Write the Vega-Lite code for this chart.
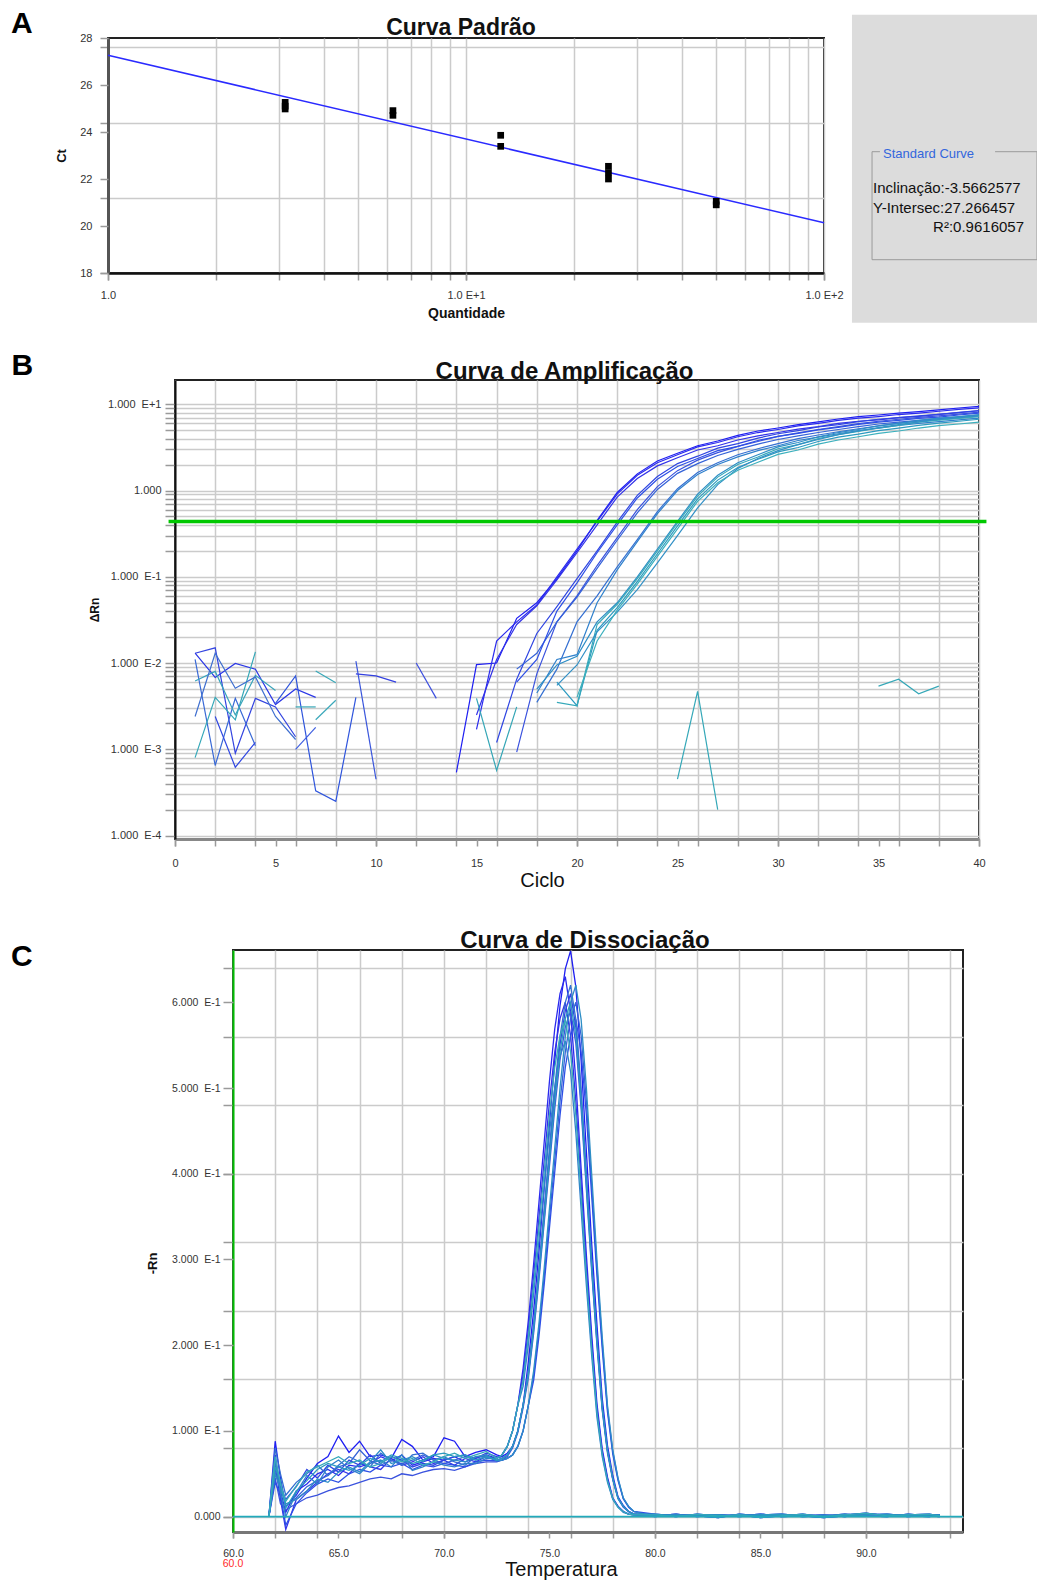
{
"$schema":"https://vega.github.io/schema/vega-lite/v6.json",
"padding":{"left":0,"top":7,"right":0,"bottom":0},
"background":"white",
"config":{"font":"Liberation Sans","view":{"stroke":"#222","strokeWidth":2},
"axis":{"labelFont":"Liberation Sans","labelFontSize":11,"labelColor":"#333","tickColor":"#9a9a9a","tickWidth":1.5,"gridColor":"#cbcbcb","gridWidth":1.5,"labelOverlap":false,"labelBound":false,"labelFlush":false,"titleFont":"Liberation Sans","titleColor":"#111"}},
"datasets":{
"std":[{"q":3.125,"ct":25.26},{"q":3.125,"ct":25.1},{"q":3.125,"ct":24.98},{"q":6.25,"ct":24.91},{"q":6.25,"ct":24.71},{"q":12.5,"ct":23.86},{"q":12.5,"ct":23.39},{"q":25,"ct":22.54},{"q":25,"ct":22.27},{"q":25,"ct":22.0},{"q":50,"ct":21.05},{"q":50,"ct":20.9}],
"fit":[{"q":1,"ct":27.266},{"q":100,"ct":20.134}],
"base":[{"t":60,"v":0},{"t":94.6,"v":0}],
"amp":[
{"s":"a","c":14,"v":0.00054},{"s":"a","c":15,"v":0.0096},{"s":"a","c":16,"v":0.01},{"s":"a","c":17,"v":0.033},{"s":"a","c":18,"v":0.05},{"s":"a","c":19,"v":0.095},{"s":"a","c":20,"v":0.2},{"s":"a","c":21,"v":0.45},{"s":"a","c":22,"v":0.95},{"s":"a","c":23,"v":1.56},{"s":"a","c":24,"v":2.2},{"s":"a","c":25,"v":2.7},{"s":"a","c":26,"v":3.3},{"s":"a","c":27,"v":3.75},{"s":"a","c":28,"v":4.35},{"s":"a","c":29,"v":4.9},{"s":"a","c":30,"v":5.3},{"s":"a","c":31,"v":5.8},{"s":"a","c":32,"v":6.25},{"s":"a","c":33,"v":6.75},{"s":"a","c":34,"v":7.2},{"s":"a","c":35,"v":7.5},{"s":"a","c":36,"v":7.9},{"s":"a","c":37,"v":8.2},{"s":"a","c":38,"v":8.6},{"s":"a","c":39,"v":9.05},{"s":"a","c":40,"v":9.45},
{"s":"b","c":15,"v":0.0017},{"s":"b","c":16,"v":0.018},{"s":"b","c":17,"v":0.03},{"s":"b","c":18,"v":0.047},{"s":"b","c":19,"v":0.1},{"s":"b","c":20,"v":0.21},{"s":"b","c":21,"v":0.44},{"s":"b","c":22,"v":0.91},{"s":"b","c":23,"v":1.5},{"s":"b","c":24,"v":2.1},{"s":"b","c":25,"v":2.6},{"s":"b","c":26,"v":3.2},{"s":"b","c":27,"v":3.6},{"s":"b","c":28,"v":4.2},{"s":"b","c":29,"v":4.7},{"s":"b","c":30,"v":5.1},{"s":"b","c":31,"v":5.6},{"s":"b","c":32,"v":6.0},{"s":"b","c":33,"v":6.5},{"s":"b","c":34,"v":6.9},{"s":"b","c":35,"v":7.2},{"s":"b","c":36,"v":7.6},{"s":"b","c":37,"v":7.9},{"s":"b","c":38,"v":8.3},{"s":"b","c":39,"v":8.7},{"s":"b","c":40,"v":9.1},
{"s":"c","c":15,"v":0.0025},{"s":"c","c":16,"v":0.011},{"s":"c","c":17,"v":0.028},{"s":"c","c":18,"v":0.046},{"s":"c","c":19,"v":0.092},{"s":"c","c":20,"v":0.19},{"s":"c","c":21,"v":0.4},{"s":"c","c":22,"v":0.84},{"s":"c","c":23,"v":1.38},{"s":"c","c":24,"v":1.93},{"s":"c","c":25,"v":2.4},{"s":"c","c":26,"v":2.95},{"s":"c","c":27,"v":3.3},{"s":"c","c":28,"v":3.85},{"s":"c","c":29,"v":4.3},{"s":"c","c":30,"v":4.7},{"s":"c","c":31,"v":5.15},{"s":"c","c":32,"v":5.5},{"s":"c","c":33,"v":6.0},{"s":"c","c":34,"v":6.35},{"s":"c","c":35,"v":6.6},{"s":"c","c":36,"v":7.0},{"s":"c","c":37,"v":7.25},{"s":"c","c":38,"v":7.65},{"s":"c","c":39,"v":8.0},{"s":"c","c":40,"v":8.4},
{"s":"d","c":16,"v":0.0012},{"s":"d","c":17,"v":0.0065},{"s":"d","c":18,"v":0.022},{"s":"d","c":19,"v":0.045},{"s":"d","c":20,"v":0.095},{"s":"d","c":21,"v":0.2},{"s":"d","c":22,"v":0.43},{"s":"d","c":23,"v":0.88},{"s":"d","c":24,"v":1.45},{"s":"d","c":25,"v":2.05},{"s":"d","c":26,"v":2.5},{"s":"d","c":27,"v":3.1},{"s":"d","c":28,"v":3.5},{"s":"d","c":29,"v":4.05},{"s":"d","c":30,"v":4.55},{"s":"d","c":31,"v":4.95},{"s":"d","c":32,"v":5.45},{"s":"d","c":33,"v":5.8},{"s":"d","c":34,"v":6.3},{"s":"d","c":35,"v":6.7},{"s":"d","c":36,"v":7.0},{"s":"d","c":37,"v":7.35},{"s":"d","c":38,"v":7.65},{"s":"d","c":39,"v":8.05},{"s":"d","c":40,"v":8.45},
{"s":"e","c":17,"v":0.00093},{"s":"e","c":18,"v":0.0075},{"s":"e","c":19,"v":0.03},{"s":"e","c":20,"v":0.06},{"s":"e","c":21,"v":0.135},{"s":"e","c":22,"v":0.285},{"s":"e","c":23,"v":0.6},{"s":"e","c":24,"v":1.11},{"s":"e","c":25,"v":1.7},{"s":"e","c":26,"v":2.25},{"s":"e","c":27,"v":2.75},{"s":"e","c":28,"v":3.25},{"s":"e","c":29,"v":3.7},{"s":"e","c":30,"v":4.25},{"s":"e","c":31,"v":4.65},{"s":"e","c":32,"v":5.1},{"s":"e","c":33,"v":5.5},{"s":"e","c":34,"v":5.95},{"s":"e","c":35,"v":6.35},{"s":"e","c":36,"v":6.7},{"s":"e","c":37,"v":7.05},{"s":"e","c":38,"v":7.35},{"s":"e","c":39,"v":7.7},{"s":"e","c":40,"v":8.1},
{"s":"f","c":17,"v":0.0085},{"s":"f","c":18,"v":0.013},{"s":"f","c":19,"v":0.03},{"s":"f","c":20,"v":0.058},{"s":"f","c":21,"v":0.125},{"s":"f","c":22,"v":0.265},{"s":"f","c":23,"v":0.55},{"s":"f","c":24,"v":1.03},{"s":"f","c":25,"v":1.58},{"s":"f","c":26,"v":2.05},{"s":"f","c":27,"v":2.55},{"s":"f","c":28,"v":3.0},{"s":"f","c":29,"v":3.45},{"s":"f","c":30,"v":3.9},{"s":"f","c":31,"v":4.3},{"s":"f","c":32,"v":4.7},{"s":"f","c":33,"v":5.1},{"s":"f","c":34,"v":5.5},{"s":"f","c":35,"v":5.9},{"s":"f","c":36,"v":6.2},{"s":"f","c":37,"v":6.5},{"s":"f","c":38,"v":6.8},{"s":"f","c":39,"v":7.15},{"s":"f","c":40,"v":7.5},
{"s":"g","c":17,"v":0.006},{"s":"g","c":18,"v":0.011},{"s":"g","c":19,"v":0.04},{"s":"g","c":20,"v":0.085},{"s":"g","c":21,"v":0.19},{"s":"g","c":22,"v":0.4},{"s":"g","c":23,"v":0.82},{"s":"g","c":24,"v":1.35},{"s":"g","c":25,"v":1.9},{"s":"g","c":26,"v":2.35},{"s":"g","c":27,"v":2.9},{"s":"g","c":28,"v":3.25},{"s":"g","c":29,"v":3.8},{"s":"g","c":30,"v":4.25},{"s":"g","c":31,"v":4.6},{"s":"g","c":32,"v":5.05},{"s":"g","c":33,"v":5.4},{"s":"g","c":34,"v":5.85},{"s":"g","c":35,"v":6.2},{"s":"g","c":36,"v":6.5},{"s":"g","c":37,"v":6.85},{"s":"g","c":38,"v":7.1},{"s":"g","c":39,"v":7.5},{"s":"g","c":40,"v":7.9},
{"s":"h","c":18,"v":0.0035},{"s":"h","c":19,"v":0.0085},{"s":"h","c":20,"v":0.03},{"s":"h","c":21,"v":0.06},{"s":"h","c":22,"v":0.13},{"s":"h","c":23,"v":0.27},{"s":"h","c":24,"v":0.57},{"s":"h","c":25,"v":1.05},{"s":"h","c":26,"v":1.62},{"s":"h","c":27,"v":2.1},{"s":"h","c":28,"v":2.6},{"s":"h","c":29,"v":3.05},{"s":"h","c":30,"v":3.5},{"s":"h","c":31,"v":4.0},{"s":"h","c":32,"v":4.4},{"s":"h","c":33,"v":4.8},{"s":"h","c":34,"v":5.2},{"s":"h","c":35,"v":5.6},{"s":"h","c":36,"v":6.05},{"s":"h","c":37,"v":6.35},{"s":"h","c":38,"v":6.65},{"s":"h","c":39,"v":6.95},{"s":"h","c":40,"v":7.3},
{"s":"i","c":18,"v":0.0045},{"s":"i","c":19,"v":0.011},{"s":"i","c":20,"v":0.0125},{"s":"i","c":21,"v":0.05},{"s":"i","c":22,"v":0.12},{"s":"i","c":23,"v":0.255},{"s":"i","c":24,"v":0.54},{"s":"i","c":25,"v":1.0},{"s":"i","c":26,"v":1.53},{"s":"i","c":27,"v":2.0},{"s":"i","c":28,"v":2.45},{"s":"i","c":29,"v":2.9},{"s":"i","c":30,"v":3.3},{"s":"i","c":31,"v":3.8},{"s":"i","c":32,"v":4.15},{"s":"i","c":33,"v":4.55},{"s":"i","c":34,"v":4.95},{"s":"i","c":35,"v":5.3},{"s":"i","c":36,"v":5.7},{"s":"i","c":37,"v":6.0},{"s":"i","c":38,"v":6.3},{"s":"i","c":39,"v":6.6},{"s":"i","c":40,"v":6.9},
{"s":"j","c":18,"v":0.005},{"s":"j","c":19,"v":0.0095},{"s":"j","c":20,"v":0.012},{"s":"j","c":21,"v":0.03},{"s":"j","c":22,"v":0.05},{"s":"j","c":23,"v":0.1},{"s":"j","c":24,"v":0.21},{"s":"j","c":25,"v":0.44},{"s":"j","c":26,"v":0.91},{"s":"j","c":27,"v":1.5},{"s":"j","c":28,"v":2.1},{"s":"j","c":29,"v":2.6},{"s":"j","c":30,"v":3.2},{"s":"j","c":31,"v":3.6},{"s":"j","c":32,"v":4.2},{"s":"j","c":33,"v":4.7},{"s":"j","c":34,"v":5.1},{"s":"j","c":35,"v":5.6},{"s":"j","c":36,"v":6.0},{"s":"j","c":37,"v":6.5},{"s":"j","c":38,"v":6.9},{"s":"j","c":39,"v":7.2},{"s":"j","c":40,"v":7.6},
{"s":"k","c":19,"v":0.006},{"s":"k","c":20,"v":0.0032},{"s":"k","c":21,"v":0.024},{"s":"k","c":22,"v":0.044},{"s":"k","c":23,"v":0.088},{"s":"k","c":24,"v":0.185},{"s":"k","c":25,"v":0.39},{"s":"k","c":26,"v":0.8},{"s":"k","c":27,"v":1.32},{"s":"k","c":28,"v":1.85},{"s":"k","c":29,"v":2.3},{"s":"k","c":30,"v":2.8},{"s":"k","c":31,"v":3.15},{"s":"k","c":32,"v":3.7},{"s":"k","c":33,"v":4.15},{"s":"k","c":34,"v":4.5},{"s":"k","c":35,"v":4.95},{"s":"k","c":36,"v":5.3},{"s":"k","c":37,"v":5.7},{"s":"k","c":38,"v":6.05},{"s":"k","c":39,"v":6.35},{"s":"k","c":40,"v":6.7},
{"s":"l","c":19,"v":0.0035},{"s":"l","c":20,"v":0.0032},{"s":"l","c":21,"v":0.028},{"s":"l","c":22,"v":0.048},{"s":"l","c":23,"v":0.095},{"s":"l","c":24,"v":0.2},{"s":"l","c":25,"v":0.42},{"s":"l","c":26,"v":0.86},{"s":"l","c":27,"v":1.43},{"s":"l","c":28,"v":2.0},{"s":"l","c":29,"v":2.45},{"s":"l","c":30,"v":3.05},{"s":"l","c":31,"v":3.4},{"s":"l","c":32,"v":4.0},{"s":"l","c":33,"v":4.45},{"s":"l","c":34,"v":4.85},{"s":"l","c":35,"v":5.3},{"s":"l","c":36,"v":5.7},{"s":"l","c":37,"v":6.2},{"s":"l","c":38,"v":6.55},{"s":"l","c":39,"v":6.85},{"s":"l","c":40,"v":7.2},
{"s":"m","c":19,"v":0.0055},{"s":"m","c":20,"v":0.0095},{"s":"m","c":21,"v":0.023},{"s":"m","c":22,"v":0.039},{"s":"m","c":23,"v":0.071},{"s":"m","c":24,"v":0.145},{"s":"m","c":25,"v":0.3},{"s":"m","c":26,"v":0.63},{"s":"m","c":27,"v":1.17},{"s":"m","c":28,"v":1.8},{"s":"m","c":29,"v":2.35},{"s":"m","c":30,"v":2.9},{"s":"m","c":31,"v":3.4},{"s":"m","c":32,"v":3.9},{"s":"m","c":33,"v":4.45},{"s":"m","c":34,"v":4.9},{"s":"m","c":35,"v":5.35},{"s":"m","c":36,"v":5.8},{"s":"m","c":37,"v":6.25},{"s":"m","c":38,"v":6.7},{"s":"m","c":39,"v":7.05},{"s":"m","c":40,"v":7.4},
{"s":"n","c":20,"v":0.004},{"s":"n","c":21,"v":0.018},{"s":"n","c":22,"v":0.041},{"s":"n","c":23,"v":0.082},{"s":"n","c":24,"v":0.172},{"s":"n","c":25,"v":0.36},{"s":"n","c":26,"v":0.75},{"s":"n","c":27,"v":1.23},{"s":"n","c":28,"v":1.72},{"s":"n","c":29,"v":2.13},{"s":"n","c":30,"v":2.62},{"s":"n","c":31,"v":2.95},{"s":"n","c":32,"v":3.45},{"s":"n","c":33,"v":3.85},{"s":"n","c":34,"v":4.2},{"s":"n","c":35,"v":4.6},{"s":"n","c":36,"v":4.9},{"s":"n","c":37,"v":5.3},{"s":"n","c":38,"v":5.65},{"s":"n","c":39,"v":5.9},{"s":"n","c":40,"v":6.2},
{"s":"n1","c":1,"v":0.013},{"s":"n1","c":2,"v":0.015},{"s":"n1","c":3,"v":0.0009},{"s":"n1","c":4,"v":0.0039},{"s":"n1","c":5,"v":0.0031},{"s":"n1","c":6,"v":0.0014},
{"s":"n2","c":1,"v":0.013},{"s":"n2","c":2,"v":0.0068},{"s":"n2","c":3,"v":0.0099},{"s":"n2","c":4,"v":0.0085},{"s":"n2","c":5,"v":0.0033},{"s":"n2","c":6,"v":0.005},{"s":"n2","c":7,"v":0.004},
{"s":"n3","c":1,"v":0.011},{"s":"n3","c":2,"v":0.00065},{"s":"n3","c":3,"v":0.0039},{"s":"n3","c":4,"v":0.0011},
{"s":"n4","c":1,"v":0.0008},{"s":"n4","c":2,"v":0.004},{"s":"n4","c":3,"v":0.0022},{"s":"n4","c":4,"v":0.0135},
{"s":"n5","c":1,"v":0.0062},{"s":"n5","c":2,"v":0.008},{"s":"n5","c":3,"v":0.0025},{"s":"n5","c":4,"v":0.0072},{"s":"n5","c":5,"v":0.0048},
{"s":"n6","c":2,"v":0.0024},{"s":"n6","c":3,"v":0.00062},{"s":"n6","c":4,"v":0.0012},
{"s":"n7","c":1,"v":0.0024},{"s":"n7","c":2,"v":0.013},{"s":"n7","c":3,"v":0.0051},{"s":"n7","c":4,"v":0.0069},{"s":"n7","c":5,"v":0.0024},{"s":"n7","c":6,"v":0.0013},
{"s":"n8","c":5,"v":0.0034},{"s":"n8","c":6,"v":0.0071},{"s":"n8","c":7,"v":0.00033},{"s":"n8","c":8,"v":0.00025},{"s":"n8","c":9,"v":0.004},
{"s":"n9","c":9,"v":0.0105},{"s":"n9","c":10,"v":0.00045},
{"s":"n10","c":9,"v":0.0075},{"s":"n10","c":10,"v":0.0071},{"s":"n10","c":11,"v":0.006},
{"s":"n11","c":7,"v":0.0081},{"s":"n11","c":8,"v":0.0059},
{"s":"n12","c":7,"v":0.0022},{"s":"n12","c":8,"v":0.0037},
{"s":"n13","c":6,"v":0.0031},{"s":"n13","c":7,"v":0.0031},
{"s":"n14","c":6,"v":0.001},{"s":"n14","c":7,"v":0.0018},
{"s":"n15","c":12,"v":0.01},{"s":"n15","c":13,"v":0.0039},
{"s":"n16","c":15,"v":0.0039},{"s":"n16","c":16,"v":0.00057},{"s":"n16","c":17,"v":0.0031},
{"s":"n18","c":25,"v":0.00045},{"s":"n18","c":26,"v":0.0047},{"s":"n18","c":27,"v":0.0002},
{"s":"n19","c":35,"v":0.0054},{"s":"n19","c":36,"v":0.0065},{"s":"n19","c":37,"v":0.0044},{"s":"n19","c":38,"v":0.0054}
],
"melt":[
{"s":"m1","t":61.7,"v":0},{"s":"m1","t":62,"v":0.088},{"s":"m1","t":62.25,"v":0.045},{"s":"m1","t":62.5,"v":0.012},{"s":"m1","t":63,"v":0.025},{"s":"m1","t":63.5,"v":0.045},{"s":"m1","t":64,"v":0.062},{"s":"m1","t":64.5,"v":0.07},{"s":"m1","t":65,"v":0.094},{"s":"m1","t":65.5,"v":0.075},{"s":"m1","t":66,"v":0.088},{"s":"m1","t":66.5,"v":0.07},{"s":"m1","t":67,"v":0.072},{"s":"m1","t":67.5,"v":0.068},{"s":"m1","t":68,"v":0.09},{"s":"m1","t":68.5,"v":0.082},{"s":"m1","t":69,"v":0.066},{"s":"m1","t":69.5,"v":0.07},{"s":"m1","t":70,"v":0.092},{"s":"m1","t":70.5,"v":0.088},{"s":"m1","t":71,"v":0.07},{"s":"m1","t":71.5,"v":0.075},{"s":"m1","t":72,"v":0.078},
{"s":"m1","t":72.5,"v":0.072},{"s":"m1","t":72.75,"v":0.07},{"s":"m1","t":73,"v":0.074},{"s":"m1","t":73.25,"v":0.082},{"s":"m1","t":73.5,"v":0.1},{"s":"m1","t":73.75,"v":0.13},{"s":"m1","t":74,"v":0.181},{"s":"m1","t":74.25,"v":0.24},{"s":"m1","t":74.5,"v":0.309},{"s":"m1","t":74.75,"v":0.383},{"s":"m1","t":75,"v":0.458},{"s":"m1","t":75.25,"v":0.532},{"s":"m1","t":75.5,"v":0.596},{"s":"m1","t":75.75,"v":0.639},{"s":"m1","t":76,"v":0.66},{"s":"m1","t":76.25,"v":0.618},{"s":"m1","t":76.5,"v":0.532},{"s":"m1","t":76.75,"v":0.426},{"s":"m1","t":77,"v":0.319},{"s":"m1","t":77.25,"v":0.224},{"s":"m1","t":77.5,"v":0.138},{"s":"m1","t":77.75,"v":0.083},{"s":"m1","t":78,"v":0.048},{"s":"m1","t":78.25,"v":0.023},{"s":"m1","t":78.5,"v":0.013},{"s":"m1","t":78.75,"v":0.006},{"s":"m1","t":79,"v":0.003},
{"s":"m1","t":80,"v":0.002},{"s":"m1","t":81,"v":0},{"s":"m1","t":82,"v":0.003},{"s":"m1","t":83,"v":0.001},{"s":"m1","t":84,"v":0.002},{"s":"m1","t":85,"v":-0.001},{"s":"m1","t":86,"v":0.001},{"s":"m1","t":87,"v":0.003},{"s":"m1","t":88,"v":0},{"s":"m1","t":89,"v":0.002},{"s":"m1","t":90,"v":0.004},{"s":"m1","t":91,"v":0.001},{"s":"m1","t":92,"v":0.002},{"s":"m1","t":93,"v":0.003},{"s":"m1","t":93.5,"v":0.001},
{"s":"m2","t":61.7,"v":0},{"s":"m2","t":62,"v":0.072},{"s":"m2","t":62.25,"v":0.03},{"s":"m2","t":62.5,"v":0.005},{"s":"m2","t":63,"v":0.03},{"s":"m2","t":63.5,"v":0.038},{"s":"m2","t":64,"v":0.05},{"s":"m2","t":64.5,"v":0.055},{"s":"m2","t":65,"v":0.048},{"s":"m2","t":65.5,"v":0.06},{"s":"m2","t":66,"v":0.058},{"s":"m2","t":66.5,"v":0.062},{"s":"m2","t":67,"v":0.07},{"s":"m2","t":67.5,"v":0.065},{"s":"m2","t":68,"v":0.072},{"s":"m2","t":68.5,"v":0.06},{"s":"m2","t":69,"v":0.064},{"s":"m2","t":69.5,"v":0.068},{"s":"m2","t":70,"v":0.066},{"s":"m2","t":70.5,"v":0.07},{"s":"m2","t":71,"v":0.064},{"s":"m2","t":71.5,"v":0.068},{"s":"m2","t":72,"v":0.072},
{"s":"m2","t":72.5,"v":0.068},{"s":"m2","t":72.75,"v":0.072},{"s":"m2","t":73,"v":0.082},{"s":"m2","t":73.25,"v":0.1},{"s":"m2","t":73.5,"v":0.13},{"s":"m2","t":73.75,"v":0.173},{"s":"m2","t":74,"v":0.229},{"s":"m2","t":74.25,"v":0.295},{"s":"m2","t":74.5,"v":0.366},{"s":"m2","t":74.75,"v":0.437},{"s":"m2","t":75,"v":0.508},{"s":"m2","t":75.25,"v":0.569},{"s":"m2","t":75.5,"v":0.61},{"s":"m2","t":75.75,"v":0.63},{"s":"m2","t":76,"v":0.589},{"s":"m2","t":76.25,"v":0.508},{"s":"m2","t":76.5,"v":0.406},{"s":"m2","t":76.75,"v":0.305},{"s":"m2","t":77,"v":0.213},{"s":"m2","t":77.25,"v":0.132},{"s":"m2","t":77.5,"v":0.079},{"s":"m2","t":77.75,"v":0.046},{"s":"m2","t":78,"v":0.022},{"s":"m2","t":78.25,"v":0.012},{"s":"m2","t":78.5,"v":0.006},{"s":"m2","t":78.75,"v":0.003},{"s":"m2","t":79,"v":0.002},
{"s":"m2","t":80,"v":0.001},{"s":"m2","t":81,"v":0.003},{"s":"m2","t":82,"v":0},{"s":"m2","t":83,"v":0.002},{"s":"m2","t":84,"v":0.001},{"s":"m2","t":85,"v":0.003},{"s":"m2","t":86,"v":0},{"s":"m2","t":87,"v":0.001},{"s":"m2","t":88,"v":0.002},{"s":"m2","t":89,"v":0},{"s":"m2","t":90,"v":0.003},{"s":"m2","t":91,"v":0.002},{"s":"m2","t":92,"v":0},{"s":"m2","t":93,"v":0.002},{"s":"m2","t":93.5,"v":0.002},
{"s":"m3","t":61.7,"v":0},{"s":"m3","t":62,"v":0.06},{"s":"m3","t":62.25,"v":0.02},{"s":"m3","t":62.5,"v":-0.015},{"s":"m3","t":63,"v":0.02},{"s":"m3","t":63.5,"v":0.03},{"s":"m3","t":64,"v":0.04},{"s":"m3","t":64.5,"v":0.05},{"s":"m3","t":65,"v":0.055},{"s":"m3","t":65.5,"v":0.05},{"s":"m3","t":66,"v":0.062},{"s":"m3","t":66.5,"v":0.058},{"s":"m3","t":67,"v":0.055},{"s":"m3","t":67.5,"v":0.068},{"s":"m3","t":68,"v":0.06},{"s":"m3","t":68.5,"v":0.064},{"s":"m3","t":69,"v":0.07},{"s":"m3","t":69.5,"v":0.062},{"s":"m3","t":70,"v":0.066},{"s":"m3","t":70.5,"v":0.06},{"s":"m3","t":71,"v":0.068},{"s":"m3","t":71.5,"v":0.064},{"s":"m3","t":72,"v":0.07},
{"s":"m3","t":72.5,"v":0.068},{"s":"m3","t":72.75,"v":0.072},{"s":"m3","t":73,"v":0.082},{"s":"m3","t":73.25,"v":0.1},{"s":"m3","t":73.5,"v":0.13},{"s":"m3","t":73.75,"v":0.165},{"s":"m3","t":74,"v":0.218},{"s":"m3","t":74.25,"v":0.281},{"s":"m3","t":74.5,"v":0.348},{"s":"m3","t":74.75,"v":0.416},{"s":"m3","t":75,"v":0.484},{"s":"m3","t":75.25,"v":0.542},{"s":"m3","t":75.5,"v":0.581},{"s":"m3","t":75.75,"v":0.6},{"s":"m3","t":76,"v":0.561},{"s":"m3","t":76.25,"v":0.484},{"s":"m3","t":76.5,"v":0.387},{"s":"m3","t":76.75,"v":0.29},{"s":"m3","t":77,"v":0.203},{"s":"m3","t":77.25,"v":0.126},{"s":"m3","t":77.5,"v":0.076},{"s":"m3","t":77.75,"v":0.044},{"s":"m3","t":78,"v":0.021},{"s":"m3","t":78.25,"v":0.012},{"s":"m3","t":78.5,"v":0.006},{"s":"m3","t":78.75,"v":0.003},{"s":"m3","t":79,"v":0.002},
{"s":"m3","t":80,"v":0},{"s":"m3","t":81,"v":0.002},{"s":"m3","t":82,"v":0.001},{"s":"m3","t":83,"v":-0.001},{"s":"m3","t":84,"v":0.003},{"s":"m3","t":85,"v":0.001},{"s":"m3","t":86,"v":0.002},{"s":"m3","t":87,"v":0},{"s":"m3","t":88,"v":0.001},{"s":"m3","t":89,"v":0.003},{"s":"m3","t":90,"v":0.001},{"s":"m3","t":91,"v":0},{"s":"m3","t":92,"v":0.003},{"s":"m3","t":93,"v":0.001},{"s":"m3","t":93.5,"v":0},
{"s":"m4","t":61.7,"v":0},{"s":"m4","t":62,"v":0.05},{"s":"m4","t":62.25,"v":0.035},{"s":"m4","t":62.5,"v":0.02},{"s":"m4","t":63,"v":0.035},{"s":"m4","t":63.5,"v":0.055},{"s":"m4","t":64,"v":0.045},{"s":"m4","t":64.5,"v":0.06},{"s":"m4","t":65,"v":0.052},{"s":"m4","t":65.5,"v":0.066},{"s":"m4","t":66,"v":0.06},{"s":"m4","t":66.5,"v":0.072},{"s":"m4","t":67,"v":0.062},{"s":"m4","t":67.5,"v":0.07},{"s":"m4","t":68,"v":0.066},{"s":"m4","t":68.5,"v":0.058},{"s":"m4","t":69,"v":0.062},{"s":"m4","t":69.5,"v":0.06},{"s":"m4","t":70,"v":0.066},{"s":"m4","t":70.5,"v":0.07},{"s":"m4","t":71,"v":0.072},{"s":"m4","t":71.5,"v":0.068},{"s":"m4","t":72,"v":0.074},
{"s":"m4","t":72.5,"v":0.07},{"s":"m4","t":72.75,"v":0.068},{"s":"m4","t":73,"v":0.072},{"s":"m4","t":73.25,"v":0.082},{"s":"m4","t":73.5,"v":0.1},{"s":"m4","t":73.75,"v":0.13},{"s":"m4","t":74,"v":0.167},{"s":"m4","t":74.25,"v":0.221},{"s":"m4","t":74.5,"v":0.285},{"s":"m4","t":74.75,"v":0.354},{"s":"m4","t":75,"v":0.423},{"s":"m4","t":75.25,"v":0.492},{"s":"m4","t":75.5,"v":0.551},{"s":"m4","t":75.75,"v":0.59},{"s":"m4","t":76,"v":0.61},{"s":"m4","t":76.25,"v":0.571},{"s":"m4","t":76.5,"v":0.492},{"s":"m4","t":76.75,"v":0.394},{"s":"m4","t":77,"v":0.295},{"s":"m4","t":77.25,"v":0.207},{"s":"m4","t":77.5,"v":0.128},{"s":"m4","t":77.75,"v":0.077},{"s":"m4","t":78,"v":0.044},{"s":"m4","t":78.25,"v":0.022},{"s":"m4","t":78.5,"v":0.012},{"s":"m4","t":78.75,"v":0.006},{"s":"m4","t":79,"v":0.003},
{"s":"m4","t":80,"v":0.003},{"s":"m4","t":81,"v":0.001},{"s":"m4","t":82,"v":0.002},{"s":"m4","t":83,"v":0.002},{"s":"m4","t":84,"v":0},{"s":"m4","t":85,"v":0.002},{"s":"m4","t":86,"v":0.003},{"s":"m4","t":87,"v":0.001},{"s":"m4","t":88,"v":-0.001},{"s":"m4","t":89,"v":0.001},{"s":"m4","t":90,"v":0.002},{"s":"m4","t":91,"v":0.003},{"s":"m4","t":92,"v":0.001},{"s":"m4","t":93,"v":0},{"s":"m4","t":93.5,"v":0.002},
{"s":"m5","t":61.7,"v":0},{"s":"m5","t":62,"v":0.045},{"s":"m5","t":62.25,"v":0.015},{"s":"m5","t":62.5,"v":0.008},{"s":"m5","t":63,"v":0.015},{"s":"m5","t":63.5,"v":0.022},{"s":"m5","t":64,"v":0.025},{"s":"m5","t":64.5,"v":0.03},{"s":"m5","t":65,"v":0.034},{"s":"m5","t":65.5,"v":0.036},{"s":"m5","t":66,"v":0.04},{"s":"m5","t":66.5,"v":0.044},{"s":"m5","t":67,"v":0.046},{"s":"m5","t":67.5,"v":0.044},{"s":"m5","t":68,"v":0.05},{"s":"m5","t":68.5,"v":0.048},{"s":"m5","t":69,"v":0.052},{"s":"m5","t":69.5,"v":0.055},{"s":"m5","t":70,"v":0.056},{"s":"m5","t":70.5,"v":0.054},{"s":"m5","t":71,"v":0.058},{"s":"m5","t":71.5,"v":0.062},{"s":"m5","t":72,"v":0.064},
{"s":"m5","t":72.5,"v":0.064},{"s":"m5","t":72.75,"v":0.066},{"s":"m5","t":73,"v":0.07},{"s":"m5","t":73.25,"v":0.08},{"s":"m5","t":73.5,"v":0.098},{"s":"m5","t":73.75,"v":0.127},{"s":"m5","t":74,"v":0.162},{"s":"m5","t":74.25,"v":0.214},{"s":"m5","t":74.5,"v":0.276},{"s":"m5","t":74.75,"v":0.343},{"s":"m5","t":75,"v":0.409},{"s":"m5","t":75.25,"v":0.476},{"s":"m5","t":75.5,"v":0.533},{"s":"m5","t":75.75,"v":0.571},{"s":"m5","t":76,"v":0.59},{"s":"m5","t":76.25,"v":0.552},{"s":"m5","t":76.5,"v":0.476},{"s":"m5","t":76.75,"v":0.381},{"s":"m5","t":77,"v":0.286},{"s":"m5","t":77.25,"v":0.2},{"s":"m5","t":77.5,"v":0.124},{"s":"m5","t":77.75,"v":0.074},{"s":"m5","t":78,"v":0.043},{"s":"m5","t":78.25,"v":0.021},{"s":"m5","t":78.5,"v":0.011},{"s":"m5","t":78.75,"v":0.006},{"s":"m5","t":79,"v":0.003},
{"s":"m5","t":80,"v":0.001},{"s":"m5","t":81,"v":0.003},{"s":"m5","t":82,"v":0},{"s":"m5","t":83,"v":0.002},{"s":"m5","t":84,"v":0.001},{"s":"m5","t":85,"v":0.003},{"s":"m5","t":86,"v":0},{"s":"m5","t":87,"v":0.001},{"s":"m5","t":88,"v":0.002},{"s":"m5","t":89,"v":0},{"s":"m5","t":90,"v":0.003},{"s":"m5","t":91,"v":0.002},{"s":"m5","t":92,"v":0},{"s":"m5","t":93,"v":0.002},{"s":"m5","t":93.5,"v":0.002},
{"s":"m6","t":61.7,"v":0},{"s":"m6","t":62,"v":0.055},{"s":"m6","t":62.25,"v":0.04},{"s":"m6","t":62.5,"v":0.012},{"s":"m6","t":63,"v":0.022},{"s":"m6","t":63.5,"v":0.035},{"s":"m6","t":64,"v":0.042},{"s":"m6","t":64.5,"v":0.048},{"s":"m6","t":65,"v":0.058},{"s":"m6","t":65.5,"v":0.062},{"s":"m6","t":66,"v":0.078},{"s":"m6","t":66.5,"v":0.065},{"s":"m6","t":67,"v":0.06},{"s":"m6","t":67.5,"v":0.066},{"s":"m6","t":68,"v":0.062},{"s":"m6","t":68.5,"v":0.066},{"s":"m6","t":69,"v":0.072},{"s":"m6","t":69.5,"v":0.066},{"s":"m6","t":70,"v":0.062},{"s":"m6","t":70.5,"v":0.066},{"s":"m6","t":71,"v":0.07},{"s":"m6","t":71.5,"v":0.066},{"s":"m6","t":72,"v":0.07},
{"s":"m6","t":72.5,"v":0.065},{"s":"m6","t":72.75,"v":0.066},{"s":"m6","t":73,"v":0.068},{"s":"m6","t":73.25,"v":0.072},{"s":"m6","t":73.5,"v":0.082},{"s":"m6","t":73.75,"v":0.1},{"s":"m6","t":74,"v":0.13},{"s":"m6","t":74.25,"v":0.165},{"s":"m6","t":74.5,"v":0.218},{"s":"m6","t":74.75,"v":0.281},{"s":"m6","t":75,"v":0.348},{"s":"m6","t":75.25,"v":0.416},{"s":"m6","t":75.5,"v":0.484},{"s":"m6","t":75.75,"v":0.542},{"s":"m6","t":76,"v":0.581},{"s":"m6","t":76.25,"v":0.6},{"s":"m6","t":76.5,"v":0.561},{"s":"m6","t":76.75,"v":0.484},{"s":"m6","t":77,"v":0.387},{"s":"m6","t":77.25,"v":0.29},{"s":"m6","t":77.5,"v":0.203},{"s":"m6","t":77.75,"v":0.126},{"s":"m6","t":78,"v":0.076},{"s":"m6","t":78.25,"v":0.044},{"s":"m6","t":78.5,"v":0.021},{"s":"m6","t":78.75,"v":0.012},{"s":"m6","t":79,"v":0.006},
{"s":"m6","t":80,"v":0},{"s":"m6","t":81,"v":0.002},{"s":"m6","t":82,"v":0.001},{"s":"m6","t":83,"v":-0.001},{"s":"m6","t":84,"v":0.003},{"s":"m6","t":85,"v":0.001},{"s":"m6","t":86,"v":0.002},{"s":"m6","t":87,"v":0},{"s":"m6","t":88,"v":0.001},{"s":"m6","t":89,"v":0.003},{"s":"m6","t":90,"v":0.001},{"s":"m6","t":91,"v":0},{"s":"m6","t":92,"v":0.003},{"s":"m6","t":93,"v":0.001},{"s":"m6","t":93.5,"v":0},
{"s":"m7","t":61.7,"v":0},{"s":"m7","t":62,"v":0.04},{"s":"m7","t":62.25,"v":0.025},{"s":"m7","t":62.5,"v":-0.01},{"s":"m7","t":63,"v":0.015},{"s":"m7","t":63.5,"v":0.028},{"s":"m7","t":64,"v":0.038},{"s":"m7","t":64.5,"v":0.044},{"s":"m7","t":65,"v":0.04},{"s":"m7","t":65.5,"v":0.05},{"s":"m7","t":66,"v":0.055},{"s":"m7","t":66.5,"v":0.052},{"s":"m7","t":67,"v":0.06},{"s":"m7","t":67.5,"v":0.058},{"s":"m7","t":68,"v":0.062},{"s":"m7","t":68.5,"v":0.055},{"s":"m7","t":69,"v":0.06},{"s":"m7","t":69.5,"v":0.058},{"s":"m7","t":70,"v":0.062},{"s":"m7","t":70.5,"v":0.06},{"s":"m7","t":71,"v":0.058},{"s":"m7","t":71.5,"v":0.064},{"s":"m7","t":72,"v":0.066},
{"s":"m7","t":72.5,"v":0.065},{"s":"m7","t":72.75,"v":0.066},{"s":"m7","t":73,"v":0.068},{"s":"m7","t":73.25,"v":0.072},{"s":"m7","t":73.5,"v":0.082},{"s":"m7","t":73.75,"v":0.1},{"s":"m7","t":74,"v":0.13},{"s":"m7","t":74.25,"v":0.159},{"s":"m7","t":74.5,"v":0.21},{"s":"m7","t":74.75,"v":0.271},{"s":"m7","t":75,"v":0.337},{"s":"m7","t":75.25,"v":0.402},{"s":"m7","t":75.5,"v":0.468},{"s":"m7","t":75.75,"v":0.524},{"s":"m7","t":76,"v":0.561},{"s":"m7","t":76.25,"v":0.58},{"s":"m7","t":76.5,"v":0.542},{"s":"m7","t":76.75,"v":0.468},{"s":"m7","t":77,"v":0.374},{"s":"m7","t":77.25,"v":0.281},{"s":"m7","t":77.5,"v":0.196},{"s":"m7","t":77.75,"v":0.122},{"s":"m7","t":78,"v":0.073},{"s":"m7","t":78.25,"v":0.042},{"s":"m7","t":78.5,"v":0.021},{"s":"m7","t":78.75,"v":0.011},{"s":"m7","t":79,"v":0.006},
{"s":"m7","t":80,"v":0.003},{"s":"m7","t":81,"v":0.001},{"s":"m7","t":82,"v":0.002},{"s":"m7","t":83,"v":0.002},{"s":"m7","t":84,"v":0},{"s":"m7","t":85,"v":0.002},{"s":"m7","t":86,"v":0.003},{"s":"m7","t":87,"v":0.001},{"s":"m7","t":88,"v":-0.001},{"s":"m7","t":89,"v":0.001},{"s":"m7","t":90,"v":0.002},{"s":"m7","t":91,"v":0.003},{"s":"m7","t":92,"v":0.001},{"s":"m7","t":93,"v":0},{"s":"m7","t":93.5,"v":0.002},
{"s":"m8","t":61.7,"v":0},{"s":"m8","t":62,"v":0.08},{"s":"m8","t":62.25,"v":0.05},{"s":"m8","t":62.5,"v":0.025},{"s":"m8","t":63,"v":0.04},{"s":"m8","t":63.5,"v":0.05},{"s":"m8","t":64,"v":0.06},{"s":"m8","t":64.5,"v":0.048},{"s":"m8","t":65,"v":0.06},{"s":"m8","t":65.5,"v":0.07},{"s":"m8","t":66,"v":0.064},{"s":"m8","t":66.5,"v":0.058},{"s":"m8","t":67,"v":0.074},{"s":"m8","t":67.5,"v":0.066},{"s":"m8","t":68,"v":0.06},{"s":"m8","t":68.5,"v":0.072},{"s":"m8","t":69,"v":0.074},{"s":"m8","t":69.5,"v":0.066},{"s":"m8","t":70,"v":0.07},{"s":"m8","t":70.5,"v":0.064},{"s":"m8","t":71,"v":0.06},{"s":"m8","t":71.5,"v":0.07},{"s":"m8","t":72,"v":0.07},
{"s":"m8","t":72.5,"v":0.066},{"s":"m8","t":72.75,"v":0.068},{"s":"m8","t":73,"v":0.072},{"s":"m8","t":73.25,"v":0.082},{"s":"m8","t":73.5,"v":0.1},{"s":"m8","t":73.75,"v":0.13},{"s":"m8","t":74,"v":0.17},{"s":"m8","t":74.25,"v":0.225},{"s":"m8","t":74.5,"v":0.29},{"s":"m8","t":74.75,"v":0.36},{"s":"m8","t":75,"v":0.43},{"s":"m8","t":75.25,"v":0.5},{"s":"m8","t":75.5,"v":0.56},{"s":"m8","t":75.75,"v":0.6},{"s":"m8","t":76,"v":0.62},{"s":"m8","t":76.25,"v":0.58},{"s":"m8","t":76.5,"v":0.5},{"s":"m8","t":76.75,"v":0.4},{"s":"m8","t":77,"v":0.3},{"s":"m8","t":77.25,"v":0.21},{"s":"m8","t":77.5,"v":0.13},{"s":"m8","t":77.75,"v":0.078},{"s":"m8","t":78,"v":0.045},{"s":"m8","t":78.25,"v":0.022},{"s":"m8","t":78.5,"v":0.012},{"s":"m8","t":78.75,"v":0.006},{"s":"m8","t":79,"v":0.003},
{"s":"m8","t":80,"v":0.002},{"s":"m8","t":81,"v":0},{"s":"m8","t":82,"v":0.003},{"s":"m8","t":83,"v":0.001},{"s":"m8","t":84,"v":0.002},{"s":"m8","t":85,"v":-0.001},{"s":"m8","t":86,"v":0.001},{"s":"m8","t":87,"v":0.003},{"s":"m8","t":88,"v":0},{"s":"m8","t":89,"v":0.002},{"s":"m8","t":90,"v":0.004},{"s":"m8","t":91,"v":0.001},{"s":"m8","t":92,"v":0.002},{"s":"m8","t":93,"v":0.003},{"s":"m8","t":93.5,"v":0.001},
{"s":"m9","t":61.7,"v":0},{"s":"m9","t":62,"v":0.065},{"s":"m9","t":62.25,"v":0.028},{"s":"m9","t":62.5,"v":0},{"s":"m9","t":63,"v":0.028},{"s":"m9","t":63.5,"v":0.048},{"s":"m9","t":64,"v":0.038},{"s":"m9","t":64.5,"v":0.058},{"s":"m9","t":65,"v":0.066},{"s":"m9","t":65.5,"v":0.056},{"s":"m9","t":66,"v":0.05},{"s":"m9","t":66.5,"v":0.062},{"s":"m9","t":67,"v":0.066},{"s":"m9","t":67.5,"v":0.058},{"s":"m9","t":68,"v":0.072},{"s":"m9","t":68.5,"v":0.054},{"s":"m9","t":69,"v":0.058},{"s":"m9","t":69.5,"v":0.064},{"s":"m9","t":70,"v":0.06},{"s":"m9","t":70.5,"v":0.058},{"s":"m9","t":71,"v":0.062},{"s":"m9","t":71.5,"v":0.062},{"s":"m9","t":72,"v":0.068},
{"s":"m9","t":72.5,"v":0.068},{"s":"m9","t":72.75,"v":0.072},{"s":"m9","t":73,"v":0.082},{"s":"m9","t":73.25,"v":0.1},{"s":"m9","t":73.5,"v":0.13},{"s":"m9","t":73.75,"v":0.152},{"s":"m9","t":74,"v":0.201},{"s":"m9","t":74.25,"v":0.26},{"s":"m9","t":74.5,"v":0.322},{"s":"m9","t":74.75,"v":0.385},{"s":"m9","t":75,"v":0.448},{"s":"m9","t":75.25,"v":0.501},{"s":"m9","t":75.5,"v":0.537},{"s":"m9","t":75.75,"v":0.555},{"s":"m9","t":76,"v":0.519},{"s":"m9","t":76.25,"v":0.448},{"s":"m9","t":76.5,"v":0.358},{"s":"m9","t":76.75,"v":0.269},{"s":"m9","t":77,"v":0.188},{"s":"m9","t":77.25,"v":0.116},{"s":"m9","t":77.5,"v":0.07},{"s":"m9","t":77.75,"v":0.04},{"s":"m9","t":78,"v":0.02},{"s":"m9","t":78.25,"v":0.011},{"s":"m9","t":78.5,"v":0.005},{"s":"m9","t":78.75,"v":0.003},{"s":"m9","t":79,"v":0.002},
{"s":"m9","t":80,"v":0.001},{"s":"m9","t":81,"v":0.003},{"s":"m9","t":82,"v":0},{"s":"m9","t":83,"v":0.002},{"s":"m9","t":84,"v":0.001},{"s":"m9","t":85,"v":0.003},{"s":"m9","t":86,"v":0},{"s":"m9","t":87,"v":0.001},{"s":"m9","t":88,"v":0.002},{"s":"m9","t":89,"v":0},{"s":"m9","t":90,"v":0.003},{"s":"m9","t":91,"v":0.002},{"s":"m9","t":92,"v":0},{"s":"m9","t":93,"v":0.002},{"s":"m9","t":93.5,"v":0.002},
{"s":"m10","t":61.7,"v":0},{"s":"m10","t":62,"v":0.05},{"s":"m10","t":62.25,"v":0.032},{"s":"m10","t":62.5,"v":0.015},{"s":"m10","t":63,"v":0.02},{"s":"m10","t":63.5,"v":0.03},{"s":"m10","t":64,"v":0.044},{"s":"m10","t":64.5,"v":0.04},{"s":"m10","t":65,"v":0.052},{"s":"m10","t":65.5,"v":0.058},{"s":"m10","t":66,"v":0.052},{"s":"m10","t":66.5,"v":0.064},{"s":"m10","t":67,"v":0.078},{"s":"m10","t":67.5,"v":0.062},{"s":"m10","t":68,"v":0.066},{"s":"m10","t":68.5,"v":0.07},{"s":"m10","t":69,"v":0.064},{"s":"m10","t":69.5,"v":0.072},{"s":"m10","t":70,"v":0.068},{"s":"m10","t":70.5,"v":0.066},{"s":"m10","t":71,"v":0.064},{"s":"m10","t":71.5,"v":0.07},{"s":"m10","t":72,"v":0.072},
{"s":"m10","t":72.5,"v":0.065},{"s":"m10","t":72.75,"v":0.066},{"s":"m10","t":73,"v":0.068},{"s":"m10","t":73.25,"v":0.072},{"s":"m10","t":73.5,"v":0.082},{"s":"m10","t":73.75,"v":0.1},{"s":"m10","t":74,"v":0.13},{"s":"m10","t":74.25,"v":0.17},{"s":"m10","t":74.5,"v":0.225},{"s":"m10","t":74.75,"v":0.29},{"s":"m10","t":75,"v":0.36},{"s":"m10","t":75.25,"v":0.43},{"s":"m10","t":75.5,"v":0.5},{"s":"m10","t":75.75,"v":0.56},{"s":"m10","t":76,"v":0.6},{"s":"m10","t":76.25,"v":0.62},{"s":"m10","t":76.5,"v":0.58},{"s":"m10","t":76.75,"v":0.5},{"s":"m10","t":77,"v":0.4},{"s":"m10","t":77.25,"v":0.3},{"s":"m10","t":77.5,"v":0.21},{"s":"m10","t":77.75,"v":0.13},{"s":"m10","t":78,"v":0.078},{"s":"m10","t":78.25,"v":0.045},{"s":"m10","t":78.5,"v":0.022},{"s":"m10","t":78.75,"v":0.012},{"s":"m10","t":79,"v":0.006},
{"s":"m10","t":80,"v":0},{"s":"m10","t":81,"v":0.002},{"s":"m10","t":82,"v":0.001},{"s":"m10","t":83,"v":-0.001},{"s":"m10","t":84,"v":0.003},{"s":"m10","t":85,"v":0.001},{"s":"m10","t":86,"v":0.002},{"s":"m10","t":87,"v":0},{"s":"m10","t":88,"v":0.001},{"s":"m10","t":89,"v":0.003},{"s":"m10","t":90,"v":0.001},{"s":"m10","t":91,"v":0},{"s":"m10","t":92,"v":0.003},{"s":"m10","t":93,"v":0.001},{"s":"m10","t":93.5,"v":0},
{"s":"m11","t":61.7,"v":0},{"s":"m11","t":62,"v":0.058},{"s":"m11","t":62.25,"v":0.042},{"s":"m11","t":62.5,"v":0.01},{"s":"m11","t":63,"v":0.03},{"s":"m11","t":63.5,"v":0.042},{"s":"m11","t":64,"v":0.055},{"s":"m11","t":64.5,"v":0.062},{"s":"m11","t":65,"v":0.058},{"s":"m11","t":65.5,"v":0.054},{"s":"m11","t":66,"v":0.06},{"s":"m11","t":66.5,"v":0.068},{"s":"m11","t":67,"v":0.064},{"s":"m11","t":67.5,"v":0.072},{"s":"m11","t":68,"v":0.068},{"s":"m11","t":68.5,"v":0.062},{"s":"m11","t":69,"v":0.066},{"s":"m11","t":69.5,"v":0.072},{"s":"m11","t":70,"v":0.074},{"s":"m11","t":70.5,"v":0.07},{"s":"m11","t":71,"v":0.072},{"s":"m11","t":71.5,"v":0.066},{"s":"m11","t":72,"v":0.07},
{"s":"m11","t":72.5,"v":0.066},{"s":"m11","t":72.75,"v":0.068},{"s":"m11","t":73,"v":0.072},{"s":"m11","t":73.25,"v":0.082},{"s":"m11","t":73.5,"v":0.1},{"s":"m11","t":73.75,"v":0.13},{"s":"m11","t":74,"v":0.165},{"s":"m11","t":74.25,"v":0.218},{"s":"m11","t":74.5,"v":0.281},{"s":"m11","t":74.75,"v":0.348},{"s":"m11","t":75,"v":0.416},{"s":"m11","t":75.25,"v":0.484},{"s":"m11","t":75.5,"v":0.542},{"s":"m11","t":75.75,"v":0.581},{"s":"m11","t":76,"v":0.6},{"s":"m11","t":76.25,"v":0.561},{"s":"m11","t":76.5,"v":0.484},{"s":"m11","t":76.75,"v":0.387},{"s":"m11","t":77,"v":0.29},{"s":"m11","t":77.25,"v":0.203},{"s":"m11","t":77.5,"v":0.126},{"s":"m11","t":77.75,"v":0.076},{"s":"m11","t":78,"v":0.044},{"s":"m11","t":78.25,"v":0.021},{"s":"m11","t":78.5,"v":0.012},{"s":"m11","t":78.75,"v":0.006},{"s":"m11","t":79,"v":0.003},
{"s":"m11","t":80,"v":0.003},{"s":"m11","t":81,"v":0.001},{"s":"m11","t":82,"v":0.002},{"s":"m11","t":83,"v":0.002},{"s":"m11","t":84,"v":0},{"s":"m11","t":85,"v":0.002},{"s":"m11","t":86,"v":0.003},{"s":"m11","t":87,"v":0.001},{"s":"m11","t":88,"v":-0.001},{"s":"m11","t":89,"v":0.001},{"s":"m11","t":90,"v":0.002},{"s":"m11","t":91,"v":0.003},{"s":"m11","t":92,"v":0.001},{"s":"m11","t":93,"v":0},{"s":"m11","t":93.5,"v":0.002},
{"s":"m12","t":61.7,"v":0},{"s":"m12","t":62,"v":0.07},{"s":"m12","t":62.25,"v":0.038},{"s":"m12","t":62.5,"v":0.018},{"s":"m12","t":63,"v":0.036},{"s":"m12","t":63.5,"v":0.052},{"s":"m12","t":64,"v":0.058},{"s":"m12","t":64.5,"v":0.064},{"s":"m12","t":65,"v":0.07},{"s":"m12","t":65.5,"v":0.062},{"s":"m12","t":66,"v":0.066},{"s":"m12","t":66.5,"v":0.058},{"s":"m12","t":67,"v":0.062},{"s":"m12","t":67.5,"v":0.07},{"s":"m12","t":68,"v":0.064},{"s":"m12","t":68.5,"v":0.068},{"s":"m12","t":69,"v":0.06},{"s":"m12","t":69.5,"v":0.064},{"s":"m12","t":70,"v":0.07},{"s":"m12","t":70.5,"v":0.074},{"s":"m12","t":71,"v":0.068},{"s":"m12","t":71.5,"v":0.072},{"s":"m12","t":72,"v":0.076},
{"s":"m12","t":72.5,"v":0.068},{"s":"m12","t":72.75,"v":0.072},{"s":"m12","t":73,"v":0.082},{"s":"m12","t":73.25,"v":0.1},{"s":"m12","t":73.5,"v":0.13},{"s":"m12","t":73.75,"v":0.159},{"s":"m12","t":74,"v":0.21},{"s":"m12","t":74.25,"v":0.271},{"s":"m12","t":74.5,"v":0.337},{"s":"m12","t":74.75,"v":0.402},{"s":"m12","t":75,"v":0.468},{"s":"m12","t":75.25,"v":0.524},{"s":"m12","t":75.5,"v":0.561},{"s":"m12","t":75.75,"v":0.58},{"s":"m12","t":76,"v":0.542},{"s":"m12","t":76.25,"v":0.468},{"s":"m12","t":76.5,"v":0.374},{"s":"m12","t":76.75,"v":0.281},{"s":"m12","t":77,"v":0.196},{"s":"m12","t":77.25,"v":0.122},{"s":"m12","t":77.5,"v":0.073},{"s":"m12","t":77.75,"v":0.042},{"s":"m12","t":78,"v":0.021},{"s":"m12","t":78.25,"v":0.011},{"s":"m12","t":78.5,"v":0.006},{"s":"m12","t":78.75,"v":0.003},{"s":"m12","t":79,"v":0.002},
{"s":"m12","t":80,"v":0.002},{"s":"m12","t":81,"v":0},{"s":"m12","t":82,"v":0.003},{"s":"m12","t":83,"v":0.001},{"s":"m12","t":84,"v":0.002},{"s":"m12","t":85,"v":-0.001},{"s":"m12","t":86,"v":0.001},{"s":"m12","t":87,"v":0.003},{"s":"m12","t":88,"v":0},{"s":"m12","t":89,"v":0.002},{"s":"m12","t":90,"v":0.004},{"s":"m12","t":91,"v":0.001},{"s":"m12","t":92,"v":0.002},{"s":"m12","t":93,"v":0.003},{"s":"m12","t":93.5,"v":0.001}
]},
"spacing":26,
"vconcat":[
{"spacing":7,"hconcat":[
{"width":1,"height":1,"view":{"stroke":"transparent"},"data":{"values":[{}]},"mark":{"type":"text","text":""},"encoding":{}},
{
"width":716,"height":235,
"resolve":{"axis":{"x":"independent","y":"independent"}},
"layer":[
{"layer":[
{"data":{"values":[{}]},"mark":{"type":"rect","color":"#dcdcdc"},"encoding":{"x":{"datum":119.7,"type":"quantitative"},"x2":{"datum":401.2},"y":{"datum":28.99,"type":"quantitative"},"y2":{"datum":15.885}}},
{"data":{"name":"fit"},"mark":{"type":"line","color":"#2a2aff","strokeWidth":1.5},
"encoding":{
"x":{"field":"q","type":"quantitative","scale":{"type":"log","domain":[1,100],"nice":false},
"axis":{"title":null,"labels":false,"values":[1,2,3,4,5,6,7,8,9,10,20,30,40,50,60,70,80,90,100],"grid":true,"tickSize":7,"domainColor":"#111","domainWidth":2.5}},
"y":{"field":"ct","type":"quantitative","scale":{"domain":[18,28],"nice":false,"zero":false},
"axis":{"title":null,"labels":false,"values":[18,18.4,18.8,19.2,19.6,20,20.4,20.8,21.2,21.6,22,22.4,22.8,23.2,23.6,24,24.4,24.8,25.2,25.6,26,26.4,26.8,27.2,27.6,28],"grid":true,"tickSize":8,"domainColor":"#555","domainWidth":3}}}},
{"data":{"name":"std"},"mark":{"type":"point","shape":"square","filled":true,"color":"#000","size":45,"opacity":1},"encoding":{"x":{"field":"q","type":"quantitative"},"y":{"field":"ct","type":"quantitative"}}},
{"data":{"values":[{}]},"mark":{"type":"rect","fill":"#dcdcdc","stroke":"#9a9a9a","strokeWidth":1},"encoding":{"x":{"datum":136.2,"type":"quantitative"},"x2":{"datum":393.6},"y":{"datum":23.162,"type":"quantitative"},"y2":{"datum":18.566}}},
{"data":{"values":[{}]},"mark":{"type":"rect","fill":"#dcdcdc"},"encoding":{"x":{"datum":143.3,"type":"quantitative"},"x2":{"datum":300.5},"y":{"datum":23.29,"type":"quantitative"},"y2":{"datum":22.99}}},
{"data":{"values":[{}]},"mark":{"type":"text","text":"Standard Curve","align":"left","baseline":"middle","fontSize":13,"color":"#3366dd"},"encoding":{"x":{"datum":146.2,"type":"quantitative"},"y":{"datum":23.077,"type":"quantitative"}}},
{"data":{"values":[{}]},"mark":{"type":"text","text":"Inclinação:-3.5662577","align":"left","baseline":"alphabetic","fontSize":15,"color":"#111"},"encoding":{"x":{"datum":137.1,"type":"quantitative"},"y":{"datum":21.417,"type":"quantitative"}}},
{"data":{"values":[{}]},"mark":{"type":"text","text":"Y-Intersec:27.266457","align":"left","baseline":"alphabetic","fontSize":15,"color":"#111"},"encoding":{"x":{"datum":137.1,"type":"quantitative"},"y":{"datum":20.553,"type":"quantitative"}}},
{"data":{"values":[{}]},"mark":{"type":"text","text":"R²:0.9616057","align":"right","baseline":"alphabetic","fontSize":15,"color":"#111"},"encoding":{"x":{"datum":362,"type":"quantitative"},"y":{"datum":19.728,"type":"quantitative"}}},
{"data":{"values":[{}]},"mark":{"type":"text","text":"Curva Padrão","align":"center","baseline":"alphabetic","fontSize":23,"fontWeight":"bold","color":"#111"},"encoding":{"x":{"datum":9.68,"type":"quantitative"},"y":{"datum":28.14,"type":"quantitative"}}},
{"data":{"values":[{}]},"mark":{"type":"text","text":"A","align":"left","baseline":"alphabetic","fontSize":30,"fontWeight":"bold","color":"#000"},"encoding":{"x":{"datum":0.536,"type":"quantitative"},"y":{"datum":28.226,"type":"quantitative"}}}
]},
{"data":{"values":[{}]},"mark":{"type":"point","opacity":0},
"encoding":{
"x":{"datum":10,"type":"quantitative","axis":{"orient":"bottom","title":"Quantidade","titleFontSize":14,"titleFontWeight":"bold","titlePadding":6,"values":[1,10,100],"labelExpr":"datum.value == 1 ? '1.0' : datum.value == 10 ? '1.0 E+1' : '1.0 E+2'","grid":false,"domain":false,"tickSize":7,"labelPadding":9}},
"y":{"datum":20,"type":"quantitative","axis":{"orient":"left","title":"Ct","titleFontSize":13,"titleFontWeight":"bold","titlePadding":11,"values":[18,20,22,24,26,28],"grid":false,"domain":false,"tickSize":8,"labelPadding":8}}}}
]}]},
{"spacing":36,"vconcat":[
{"spacing":7,"hconcat":[
{"width":1,"height":1,"view":{"stroke":"transparent"},"data":{"values":[{}]},"mark":{"type":"text","text":""},"encoding":{}},
{
"width":804,"height":459,
"resolve":{"axis":{"x":"independent"}},
"layer":[
{"layer":[
{"data":{"name":"amp"},"mark":{"type":"line","strokeWidth":1.2},
"encoding":{
"x":{"field":"c","type":"quantitative","scale":{"domain":[0,40],"nice":false},
"axis":{"title":null,"labels":false,"values":[0,1,2,3,4,5,6,7,8,9,10,11,12,13,14,15,16,17,18,19,20,21,22,23,24,25,26,27,28,29,30,31,32,33,34,35,36,37,38,39,40],"grid":true,"tickSize":7,"domainColor":"#888","domainWidth":3}},
"y":{"field":"v","type":"quantitative","scale":{"type":"log","domain":[0.0000913,19.1],"nice":false},
"axis":{"title":"ΔRn","titleFontSize":12,"titleFontWeight":"bold","titlePadding":6,"values":[0.0001,0.0002,0.0003,0.0004,0.0005,0.0006,0.0007,0.0008,0.0009,0.001,0.002,0.003,0.004,0.005,0.006,0.007,0.008,0.009,0.01,0.02,0.03,0.04,0.05,0.06,0.07,0.08,0.09,0.1,0.2,0.3,0.4,0.5,0.6,0.7,0.8,0.9,1,2,3,4,5,6,7,8,9,10],"labelExpr":"datum.value == 10 ? '1.000\u00a0 E+1' : datum.value == 1 ? '1.000' : datum.value == 0.1 ? '1.000\u00a0 E-1' : datum.value == 0.01 ? '1.000\u00a0 E-2' : datum.value == 0.001 ? '1.000\u00a0 E-3' : datum.value == 0.0001 ? '1.000\u00a0 E-4' : ''","labelOverlap":false,"grid":true,"tickSize":10,"labelPadding":4,"domainColor":"#111","domainWidth":2}},
"color":{"field":"s","type":"nominal","legend":null,"scale":{
"domain":["a","b","c","d","e","f","g","h","i","j","k","l","m","n","n1","n2","n3","n4","n5","n6","n7","n8","n9","n10","n11","n12","n13","n14","n15","n16","n18","n19"],
"range":["#1e1ef2","#2a2aee","#3232e8","#2f45e2","#3a52de","#3462d8","#2d4fe6","#3570d2","#2f80cc","#2e8ec6","#2b9ac0","#36a9ba","#3290c6","#3cb0bd","#3344e0","#2a36e6","#3a6ad6","#35a8b8","#3aa5bb","#3048e2","#3f6fd0","#2f55dd","#3a56dc","#3340e0","#38a8b8","#3aa8ba","#35a6b6","#3f5fe0","#3d4fe0","#34a6b6","#35a8b8","#35a8b8"]}}}},
{"data":{"values":[{}]},"mark":{"type":"rule","color":"#00c800","strokeWidth":3.5},"encoding":{"x":{"datum":-0.32,"type":"quantitative"},"x2":{"datum":40.37},"y":{"datum":0.4375,"type":"quantitative"}}},
{"data":{"values":[{}]},"mark":{"type":"text","text":"Curva de Amplificação","align":"center","baseline":"alphabetic","fontSize":24,"fontWeight":"bold","color":"#111"},"encoding":{"x":{"datum":19.38,"type":"quantitative"},"y":{"datum":19.63,"type":"quantitative"}}},
{"data":{"values":[{}]},"mark":{"type":"text","text":"B","align":"left","baseline":"alphabetic","fontSize":30,"fontWeight":"bold","color":"#000"},"encoding":{"x":{"datum":-8.13,"type":"quantitative"},"y":{"datum":21.7,"type":"quantitative"}}}
]},
{"data":{"values":[{}]},"mark":{"type":"point","opacity":0},
"encoding":{
"x":{"datum":20,"type":"quantitative","axis":{"orient":"bottom","title":"Ciclo","titleFontSize":20,"titleFontWeight":"normal","titlePadding":2,"titleX":367,"values":[0,5,10,15,20,25,30,35,40],"grid":false,"domain":false,"tickSize":7,"labelPadding":11}},
"y":{"datum":1,"type":"quantitative"}}}
]}]},
{"spacing":7,"hconcat":[
{"width":1,"height":1,"view":{"stroke":"transparent"},"data":{"values":[{}]},"mark":{"type":"text","text":""},"encoding":{}},
{
"width":730,"height":582,
"resolve":{"axis":{"x":"independent","y":"independent"}},
"layer":[
{"layer":[
{"data":{"name":"melt"},"mark":{"type":"line","strokeWidth":1.3},
"encoding":{
"x":{"field":"t","type":"quantitative","scale":{"domain":[60,94.6],"nice":false,"zero":false},
"axis":{"title":null,"labels":false,"values":[60,61,62,63,64,65,66,67,68,69,70,71,72,73,74,75,76,77,78,79,80,81,82,83,84,85,86,87,88,89,90,91,92,93,94],"grid":true,"tickSize":6,"domainColor":"#777","domainWidth":3}},
"y":{"field":"v","type":"quantitative","scale":{"domain":[-0.0179,0.661],"nice":false,"zero":false},
"axis":{"title":null,"labels":false,"values":[0,0.02,0.04,0.06,0.08,0.1,0.12,0.14,0.16,0.18,0.2,0.22,0.24,0.26,0.28,0.3,0.32,0.34,0.36,0.38,0.4,0.42,0.44,0.46,0.48,0.5,0.52,0.54,0.56,0.58,0.6,0.62,0.64,0.66],"grid":true,"tickSize":10,"domainColor":"#00c000","domainWidth":2}},
"color":{"field":"s","type":"nominal","legend":null,"scale":{
"domain":["m1","m2","m3","m4","m5","m6","m7","m8","m9","m10","m11","m12"],
"range":["#1a1aff","#2233ee","#3040e0","#2a55d8","#3a5ae8","#2090c0","#30a8b8","#3a4ae8","#4a6ae0","#25a0b0","#1c7ab8","#3535e5"]}}}},
{"data":{"name":"base"},"mark":{"type":"line","color":"#22aabb","strokeWidth":1.6},"encoding":{"x":{"field":"t","type":"quantitative"},"y":{"field":"v","type":"quantitative"}}},
{"data":{"values":[{}]},"mark":{"type":"text","text":"60.0","align":"center","baseline":"middle","fontSize":10.5,"color":"#ff2a2a"},"encoding":{"x":{"datum":60,"type":"quantitative"},"y":{"datum":-0.0552,"type":"quantitative"}}},
{"data":{"values":[{}]},"mark":{"type":"text","text":"Curva de Dissociação","align":"center","baseline":"alphabetic","fontSize":24,"fontWeight":"bold","color":"#111"},"encoding":{"x":{"datum":76.68,"type":"quantitative"},"y":{"datum":0.6636,"type":"quantitative"}}},
{"data":{"values":[{}]},"mark":{"type":"text","text":"C","align":"left","baseline":"alphabetic","fontSize":30,"fontWeight":"bold","color":"#000"},"encoding":{"x":{"datum":49.48,"type":"quantitative"},"y":{"datum":0.6426,"type":"quantitative"}}}
]},
{"data":{"values":[{}]},"mark":{"type":"point","opacity":0},
"encoding":{
"x":{"datum":70,"type":"quantitative","axis":{"orient":"bottom","title":"Temperatura","titleFontSize":20,"titleFontWeight":"normal","titlePadding":1,"titleX":328,"values":[60,65,70,75,80,85,90],"format":".1f","grid":false,"domain":false,"tickSize":6,"labelPadding":10,"labelFontSize":10.5}},
"y":{"datum":0.3,"type":"quantitative","axis":{"orient":"left","title":"-Rn","titleFontSize":13,"titleFontWeight":"bold","titlePadding":12,"titleY":313,"values":[0,0.1,0.2,0.3,0.4,0.5,0.6],"labelExpr":"datum.value == 0 ? '0.000' : format(datum.value * 10, '.3f') + '\u00a0 E-1'","grid":false,"domain":false,"tickSize":10,"labelPadding":3,"labelFontSize":10.5}}}}
]}]}
]}
]
}
